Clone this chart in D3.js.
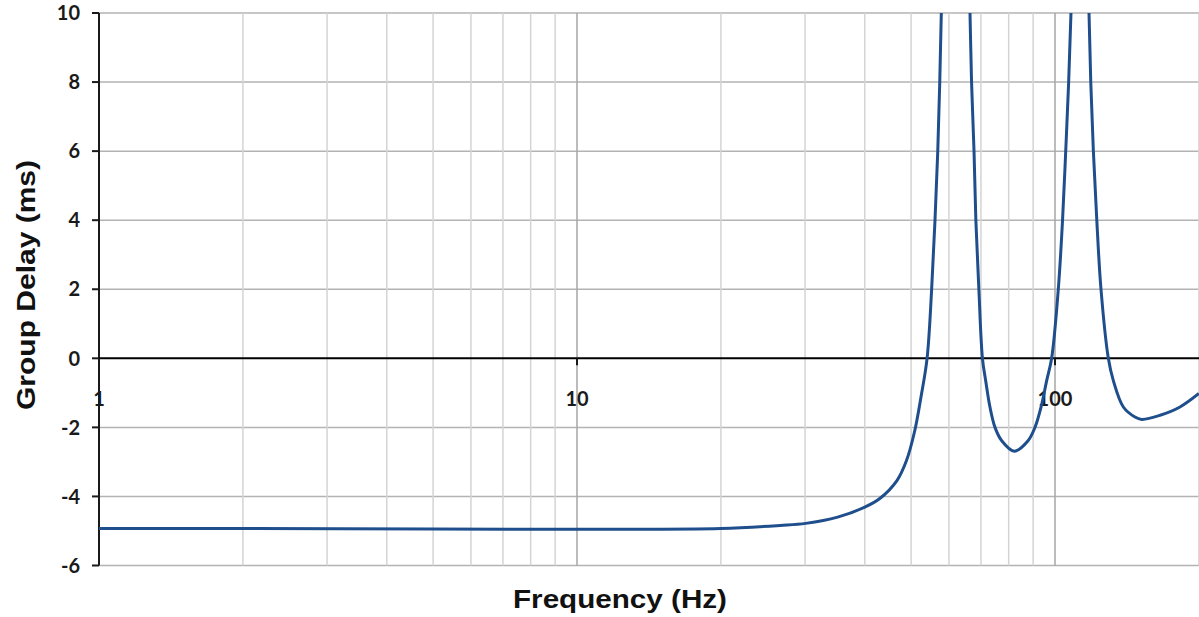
<!DOCTYPE html>
<html><head><meta charset="utf-8">
<script src="https://cdn.jsdelivr.net/npm/d3@7/dist/d3.min.js"></script>
<style>body{margin:0;background:#fff;}svg{display:block;}</style>
</head><body>
<svg id="chart" width="1199" height="617"></svg>
<script>
const freq = [1, 2, 5, 10, 20, 26.6, 30.1, 35.1, 40.0, 43.0, 46.7, 48.9, 50.9, 52.44, 54.0, 55.2, 56.1, 56.85, 57.4, 57.83, 58.2,
  65.9, 66.4, 66.9, 67.7, 68.3, 69.3, 70.5, 71.6, 73.1, 74.9, 77.3, 82.2, 87.9, 90.8, 93.5, 96.1, 98.4, 101.6, 103.7, 105.3, 106.8,
  108.0, 109.1, 116.9, 117.8, 118.8, 120.3, 122.3, 124.8, 129.3, 132.4, 139.0, 147.0, 151.8, 165.9, 182.6, 200];
const delay = [-4.93, -4.93, -4.94, -4.95, -4.93, -4.84, -4.78, -4.6, -4.31, -4.06, -3.54, -2.96, -2.09, -1.12, 0, 2, 4, 6, 8, 10, 12,
  12, 10, 8, 6, 4, 2, 0, -0.64, -1.41, -2.0, -2.38, -2.69, -2.38, -2.0, -1.41, -0.64, 0, 2, 4, 6, 8,
  10, 12, 12, 10, 8, 6, 4, 2, 0, -0.64, -1.41, -1.7, -1.77, -1.65, -1.41, -1.02];
const yTicks = [-6, -4, -2, 0, 2, 4, 6, 8, 10];
const xMajor = [1, 10, 100];
const xLabels = ["1", "10", "100"];
const xMinor = [2,3,4,5,6,7,8,9,20,30,40,50,60,70,80,90,200];

const svg = d3.select("#chart");
const pLeft = 99, pRight = 1199, pTop = 13, pBottom = 565.5;
const x = d3.scaleLog().domain([1, 200]).range([pLeft, pLeft + 478 * Math.log10(200)]);
const y = d3.scaleLinear().domain([-6, 10]).range([pBottom, pTop]);

svg.append("defs").append("clipPath").attr("id", "plot")
  .append("rect").attr("x", pLeft).attr("y", pTop).attr("width", pRight - pLeft).attr("height", pBottom - pTop);

// horizontal gridlines
svg.append("g").selectAll("line").data(yTicks.filter(d => d !== 0)).join("line")
  .attr("x1", pLeft).attr("x2", pRight).attr("y1", d => y(d)).attr("y2", d => y(d))
  .attr("stroke", "#b3b3b3").attr("stroke-width", 1.5);
// minor vertical gridlines
svg.append("g").selectAll("line").data(xMinor).join("line")
  .attr("x1", d => x(d)).attr("x2", d => x(d)).attr("y1", pTop).attr("y2", pBottom)
  .attr("stroke", "#d4d4d4").attr("stroke-width", 1.5);
// major vertical gridlines
svg.append("g").selectAll("line").data(xMajor.slice(1)).join("line")
  .attr("x1", d => x(d)).attr("x2", d => x(d)).attr("y1", pTop).attr("y2", pBottom)
  .attr("stroke", "#a6a6a6").attr("stroke-width", 1.5);

// y axis
svg.append("line").attr("x1", pLeft).attr("x2", pLeft).attr("y1", pTop).attr("y2", pBottom)
  .attr("stroke", "#1a1a1a").attr("stroke-width", 2);
svg.append("g").selectAll("line").data(yTicks).join("line")
  .attr("x1", pLeft - 7).attr("x2", pLeft).attr("y1", d => y(d)).attr("y2", d => y(d))
  .attr("stroke", "#1a1a1a").attr("stroke-width", 2);
svg.append("g").selectAll("text").data(yTicks).join("text")
  .attr("x", 80).attr("y", d => y(d)).attr("dy", "0.36em").attr("text-anchor", "end")
  .attr("font-family", "Lato, 'Open Sans', sans-serif").attr("font-weight", "bold").attr("font-size", 20)
  .attr("fill", "#1a1a1a").text(d => d);

// x axis at zero
svg.append("line").attr("x1", pLeft).attr("x2", pRight).attr("y1", y(0)).attr("y2", y(0))
  .attr("stroke", "#000").attr("stroke-width", 2);
svg.append("g").selectAll("line").data(xMajor).join("line")
  .attr("x1", d => x(d)).attr("x2", d => x(d)).attr("y1", y(0)).attr("y2", y(0) + 7)
  .attr("stroke", "#1a1a1a").attr("stroke-width", 2);
svg.append("g").selectAll("text").data(xMajor).join("text")
  .attr("x", d => x(d)).attr("y", y(0) + 40).attr("dy", "0.36em").attr("text-anchor", "middle")
  .attr("font-family", "Lato, 'Open Sans', sans-serif").attr("font-weight", "bold").attr("font-size", 20)
  .attr("fill", "#1a1a1a").text((d, i) => xLabels[i]);

// curve
const pts = freq.map((f, i) => [f, delay[i]]);
svg.append("path").datum(pts).attr("clip-path", "url(#plot)")
  .attr("d", d3.line().x(d => x(d[0])).y(d => y(d[1])).curve(d3.curveCatmullRom.alpha(0.5)))
  .attr("fill", "none").attr("stroke", "#1f4e8c").attr("stroke-width", 3);

// titles
svg.append("text").attr("x", 620).attr("y", 608).attr("text-anchor", "middle")
  .attr("textLength", 214).attr("lengthAdjust", "spacingAndGlyphs")
  .attr("font-family", "Arial, 'Liberation Sans', sans-serif").attr("font-weight", "bold").attr("font-size", 26)
  .attr("fill", "#111").text("Frequency (Hz)");
svg.append("text").attr("transform", "translate(35,285) rotate(-90)").attr("text-anchor", "middle")
  .attr("textLength", 250).attr("lengthAdjust", "spacingAndGlyphs")
  .attr("font-family", "Arial, 'Liberation Sans', sans-serif").attr("font-weight", "bold").attr("font-size", 26)
  .attr("fill", "#111").text("Group Delay (ms)");
</script>
</body></html>
